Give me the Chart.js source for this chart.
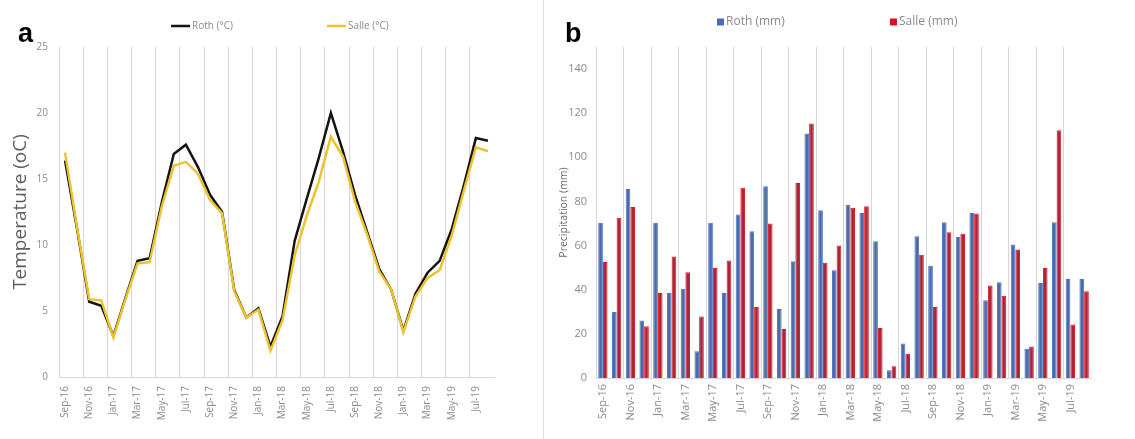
<!DOCTYPE html>
<html>
<head>
<meta charset="utf-8">
<script src="https://cdn.jsdelivr.net/npm/chart.js@4.4.0/dist/chart.umd.min.js"></script>
<style>
body { margin: 0; background: #fff; width: 1135px; height: 439px; overflow: hidden; position: relative; }
#wa { position: absolute; left: 0; top: 0; width: 543px; height: 439px; border-right: 1px solid #e2e2e2; }
#wb { position: absolute; left: 550px; top: 0; width: 585px; height: 439px; }
</style>
</head>
<body>
<div id="wa"><canvas id="tempChart" width="543" height="439"></canvas></div>
<div id="wb"><canvas id="rainChart" width="585" height="439"></canvas></div>
<script>
var MONTHS = ["Sep-16", "Oct-16", "Nov-16", "Dec-16", "Jan-17", "Feb-17", "Mar-17", "Apr-17", "May-17", "Jun-17", "Jul-17", "Aug-17",
              "Sep-17", "Oct-17", "Nov-17", "Dec-17", "Jan-18", "Feb-18", "Mar-18", "Apr-18", "May-18", "Jun-18", "Jul-18", "Aug-18",
              "Sep-18", "Oct-18", "Nov-18", "Dec-18", "Jan-19", "Feb-19", "Mar-19", "Apr-19", "May-19", "Jun-19", "Jul-19", "Aug-19"];

// temperature (oC)
var ROTH_TEMP  = [16.4, 11.2, 5.7, 5.4, 3.1, 6.0, 8.8, 9.0, 13.2, 16.9, 17.6, 15.9,
                  13.8, 12.5, 6.6, 4.5, 5.2, 2.3, 4.6, 10.3, 13.5, 16.6, 20.0, 17.1,
                  13.8, 11.0, 8.2, 6.6, 3.5, 6.3, 7.9, 8.8, 11.2, 14.5, 18.1, 17.9];
var SALLE_TEMP = [17.0, 11.3, 5.9, 5.8, 3.0, 5.9, 8.6, 8.7, 12.9, 16.0, 16.3, 15.4,
                  13.4, 12.4, 6.5, 4.5, 5.1, 2.0, 4.3, 9.2, 12.2, 14.8, 18.2, 16.7,
                  13.3, 10.8, 8.0, 6.6, 3.4, 6.1, 7.5, 8.1, 10.7, 14.1, 17.4, 17.1];

// precipitation (mm)
var ROTH_RAIN  = [70.3, 29.9, 85.7, 26.1, 70.3, 38.5, 40.5, 12.1, 70.3, 38.5, 74.1, 66.5,
                  86.9, 31.3, 52.9, 110.8, 76.0, 48.8, 78.5, 74.8, 62.0, 3.5, 15.6, 64.2,
                  50.9, 70.6, 63.9, 74.8, 35.2, 43.4, 60.5, 13.2, 43.1, 70.6, 44.9, 44.9];
var SALLE_RAIN = [52.6, 72.6, 77.5, 23.4, 38.5, 55.1, 47.9, 27.9, 49.9, 53.3, 86.2, 32.2,
                  70.0, 22.2, 88.4, 115.3, 52.2, 60.0, 77.1, 77.8, 22.7, 5.3, 11.0, 55.9,
                  32.2, 66.0, 65.4, 74.5, 41.9, 37.3, 58.2, 14.3, 49.9, 112.3, 24.3, 39.3];

var TEMP_TICKS = [0, 5, 10, 15, 20, 25];
var RAIN_TICKS = [0, 20, 40, 60, 80, 100, 120, 140];

var FONT = "'Open Sans', 'DejaVu Sans', sans-serif";

// panel letter + excel style legend, drawn on top of the chart
var panelDecor = {
    id: "panelDecor",
    afterDraw: function (chart, args, opts) {
        var ctx = chart.ctx;
        ctx.save();
        ctx.fillStyle = "#000";
        ctx.font = "bold 27px 'Liberation Sans', Arial, sans-serif";
        ctx.textBaseline = "alphabetic";
        ctx.fillText(opts.letter, opts.letterX, 42);
        ctx.font = opts.fontSize + "px " + FONT;
        ctx.textBaseline = "middle";
        opts.items.forEach(function (it) {
            if (it.kind === "line") {
                ctx.strokeStyle = it.color;
                ctx.lineWidth = 2.5;
                ctx.beginPath();
                ctx.moveTo(it.x, opts.y);
                ctx.lineTo(it.x + 19, opts.y);
                ctx.stroke();
                ctx.fillStyle = "#8a8a8a";
                ctx.fillText(it.label, it.x + 21, opts.y);
            } else {
                ctx.fillStyle = it.color;
                ctx.fillRect(it.x, opts.y - 3.5, 7, 7);
                ctx.fillStyle = "#8a8a8a";
                ctx.fillText(it.label, it.x + 9, opts.y);
            }
        });
        ctx.restore();
    }
};

function evenGrid(c) {
    return c.index % 2 === 0 ? "#d6d6d6" : "rgba(0,0,0,0)";
}

function everyOther(v, i) {
    return i % 2 === 0 ? MONTHS[i] : "";
}

var ctxA = document.getElementById("tempChart").getContext("2d");
var chartA = new Chart(ctxA, {
    type: "line",
    data: {
        labels: MONTHS,
        datasets: [
            {
                label: "Roth (°C)",
                data: ROTH_TEMP,
                borderColor: "#141414",
                borderWidth: 2.5,
                pointRadius: 0,
                tension: 0,
                order: 2
            },
            {
                label: "Salle (°C)",
                data: SALLE_TEMP,
                borderColor: "#ecc32e",
                borderWidth: 2.5,
                pointRadius: 0,
                tension: 0,
                order: 1
            }
        ]
    },
    options: {
        responsive: false,
        animation: false,
        layout: { padding: { top: 47, right: 49, bottom: 0, left: 0 } },
        plugins: {
            legend: { display: false },
            tooltip: { enabled: false },
            panelDecor: {
                letter: "a", letterX: 18, y: 26, fontSize: 10,
                items: [
                    { kind: "line", color: "#141414", x: 171, label: "Roth (°C)" },
                    { kind: "line", color: "#ecc32e", x: 327, label: "Salle (°C)" }
                ]
            }
        },
        scales: {
            x: {
                offset: true,
                grid: { offset: true, drawTicks: false, color: evenGrid, lineWidth: 1 },
                border: { color: "#d6d6d6" },
                ticks: {
                    autoSkip: false, minRotation: 90, maxRotation: 90, padding: 9,
                    color: "#8a8a8a", font: { family: FONT, size: 10 },
                    callback: everyOther
                },
                afterFit: function (s) { s.height = 62; }
            },
            y: {
                min: 0,
                max: 25,
                afterBuildTicks: function (s) { s.ticks = TEMP_TICKS.map(function (v) { return { value: v }; }); },
                grid: { display: false, drawTicks: false },
                border: { display: false },
                ticks: { padding: 11, color: "#8a8a8a", font: { family: FONT, size: 10 } },
                title: {
                    display: true, text: "Temperature (oC)", color: "#5e5e5e",
                    font: { family: FONT, size: 19 }, padding: { top: 9, bottom: 0 }
                },
                afterFit: function (s) { s.width = 59; }
            }
        }
    },
    plugins: [panelDecor]
});

var ctxB = document.getElementById("rainChart").getContext("2d");
var chartB = new Chart(ctxB, {
    type: "bar",
    data: {
        labels: MONTHS,
        datasets: [
            {
                label: "Roth (mm)",
                data: ROTH_RAIN,
                backgroundColor: "#4d69a8",
                borderColor: "#4a76c4",
                borderWidth: 1,
                categoryPercentage: 0.68,
                barPercentage: 1.0
            },
            {
                label: "Salle (mm)",
                data: SALLE_RAIN,
                backgroundColor: "#a8263c",
                borderColor: "#e5141c",
                borderWidth: 1,
                categoryPercentage: 0.68,
                barPercentage: 1.0
            }
        ]
    },
    options: {
        responsive: false,
        animation: false,
        layout: { padding: { top: 47, right: 44, bottom: 0, left: 0 } },
        plugins: {
            legend: { display: false },
            tooltip: { enabled: false },
            panelDecor: {
                letter: "b", letterX: 15, y: 22, fontSize: 12,
                items: [
                    { kind: "box", color: "#4a6bb0", x: 167, label: "Roth (mm)" },
                    { kind: "box", color: "#d3141f", x: 340, label: "Salle (mm)" }
                ]
            }
        },
        scales: {
            x: {
                grid: { offset: true, drawTicks: false, color: evenGrid, lineWidth: 1 },
                border: { color: "#d6d6d6" },
                ticks: {
                    autoSkip: false, minRotation: 90, maxRotation: 90, padding: 6,
                    color: "#8a8a8a", font: { family: FONT, size: 11 },
                    callback: everyOther
                },
                afterFit: function (s) { s.height = 61; }
            },
            y: {
                min: 0,
                max: 150,
                afterBuildTicks: function (s) { s.ticks = RAIN_TICKS.map(function (v) { return { value: v }; }); },
                grid: { display: false, drawTicks: false },
                border: { display: false },
                ticks: { padding: 9, color: "#8a8a8a", font: { family: FONT, size: 11 } },
                title: {
                    display: true, text: "Precipitation (mm)", color: "#6a6a6a",
                    font: { family: FONT, size: 10.5 }, padding: { top: 8, bottom: 0 }
                },
                afterFit: function (s) { s.width = 46; }
            }
        }
    },
    plugins: [panelDecor]
});
</script>
</body>
</html>
